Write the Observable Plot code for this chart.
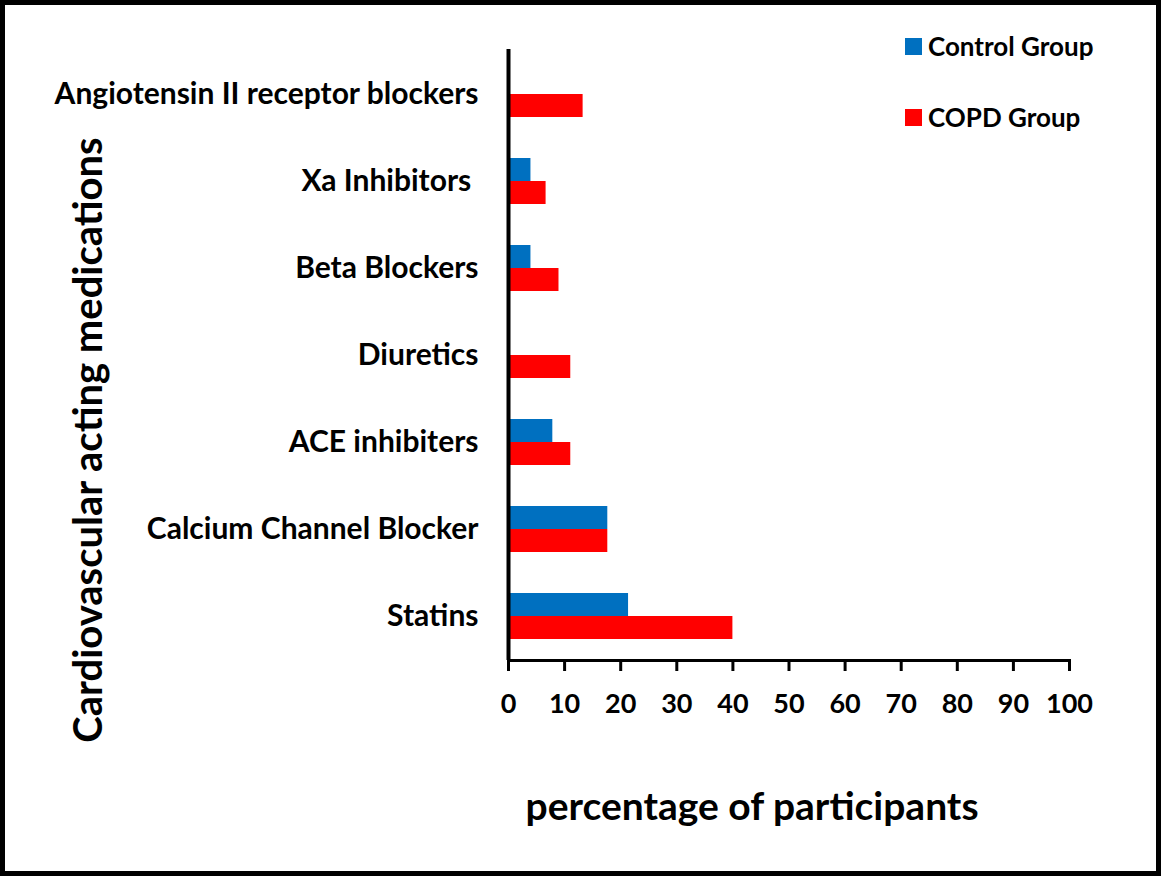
<!DOCTYPE html>
<html>
<head>
<meta charset="utf-8">
<script src="https://cdn.jsdelivr.net/npm/d3@7"></script>
<script src="https://cdn.jsdelivr.net/npm/@observablehq/plot@0.6"></script>
<style>
  html, body { margin: 0; padding: 0; background: #fff; }
  #wrap { position: relative; width: 1161px; height: 876px; background: #fff; overflow: hidden; font-family: Lato, "Open Sans", sans-serif; font-weight: bold; color: #000; }
  #wrap svg text { white-space: pre; }
  #border { position: absolute; left: 0; top: 0; width: 1161px; height: 876px; box-sizing: border-box; border: 5px solid #000; pointer-events: none; }
  .abs { position: absolute; white-space: nowrap; line-height: 1; }
  #ytitle { left: 87px; top: 440px; font-size: 40px; transform: translate(-50%, -50%) rotate(-90deg); }
  #xtitle { left: 752px; top: 805px; font-size: 39px; transform: translate(-50%, -50%); }
  .leg { position: absolute; left: 905px; display: flex; align-items: center; font-size: 26px; transform: translateY(-50%); }
  .sw { width: 17px; height: 17px; margin-right: 6px; }
</style>
</head>
<body>
<div id="wrap"></div>
<script>
const categories = [
  "Angiotensin II receptor blockers",
  "Xa Inhibitors ",
  "Beta Blockers",
  "Diuretics",
  "ACE inhibiters",
  "Calcium Channel Blocker",
  "Statins"
];
const controlValues = [0, 4.0, 4.0, 0, 7.9, 17.7, 21.4];
const copdValues = [13.3, 6.7, 9.0, 11.1, 11.1, 17.7, 40.0];
const groups = ["Control Group", "COPD Group"];
const groupColors = ["#0070C0", "#FF0000"];
const xTicks = [0, 10, 20, 30, 40, 50, 60, 70, 80, 90, 100];
const xTitle = "percentage of participants";
const yTitle = "Cardiovascular acting medications";

const controlData = categories.map((c, i) => ({category: c, group: groups[0], value: controlValues[i]}));
const copdData = categories.map((c, i) => ({category: c, group: groups[1], value: copdValues[i]}));

const bandHalf = 23;

const chart = Plot.plot({
  width: 1161,
  height: 876,
  marginTop: 49,
  marginBottom: 216,
  marginLeft: 508,
  marginRight: 92,
  style: {fontFamily: "Lato, 'Open Sans', sans-serif", fontWeight: "bold", color: "#000", background: "transparent"},
  x: {domain: [0, 100]},
  y: {domain: categories, paddingInner: 0.473, paddingOuter: 0.2365},
  color: {domain: groups, range: groupColors},
  marks: [
    Plot.barX(controlData, {x: "value", y: "category", fill: "group", insetBottom: bandHalf, insetTop: 0}),
    Plot.barX(copdData, {x: "value", y: "category", fill: "group", insetTop: bandHalf, insetBottom: 0}),
    Plot.axisY({tickSize: 0, tickPadding: 30, fontSize: 30, label: null, fill: "#000"}),
    Plot.axisX({ticks: xTicks, tickSize: 11, tickPadding: 22, strokeWidth: 3, fontSize: 27, label: null, fill: "#000", tickFormat: d3.format("d")}),
    Plot.frame({anchor: "bottom", strokeWidth: 3, stroke: "#000"}),
    Plot.ruleX([0], {strokeWidth: 4, stroke: "#000"})
  ]
});

const wrap = document.getElementById("wrap");
wrap.appendChild(chart);

const yt = document.createElement("div");
yt.id = "ytitle"; yt.className = "abs"; yt.textContent = yTitle;
wrap.appendChild(yt);
const xt = document.createElement("div");
xt.id = "xtitle"; xt.className = "abs"; xt.textContent = xTitle;
wrap.appendChild(xt);

const legTops = [46, 117];
groups.forEach((g, i) => {
  const d = document.createElement("div");
  d.className = "leg";
  d.style.top = legTops[i] + "px";
  const sw = document.createElement("div");
  sw.className = "sw";
  sw.style.background = groupColors[i];
  const t = document.createElement("span");
  t.textContent = g;
  d.appendChild(sw); d.appendChild(t);
  wrap.appendChild(d);
});

const border = document.createElement("div");
border.id = "border";
wrap.appendChild(border);
</script>
</body>
</html>
